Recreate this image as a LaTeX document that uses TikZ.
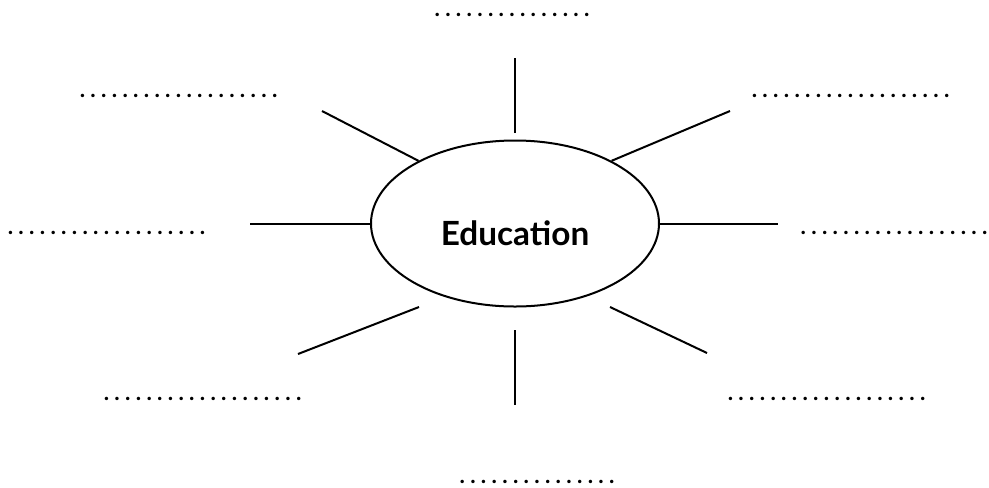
\documentclass[tikz,border=0pt]{standalone}
\usepackage{fontspec}
\setmainfont{Lato}
\usetikzlibrary{shapes.geometric}
% a row of n spaced dots to write on
\newcommand{\blankdots}[1]{\foreach \k in {1,...,#1}{\makebox[8pt]{.}}}

\begin{document}
\begin{tikzpicture}[x=0.75pt, y=-0.75pt,
   hub/.style={draw, ellipse, line width=1.5pt, minimum width=216pt, minimum height=124.5pt, inner sep=0pt},
   title/.style={font=\bfseries\fontsize{25}{30}\selectfont},
   blank/.style={anchor=base, inner sep=0pt, font=\bfseries\fontsize{17}{20}\selectfont},
   spoke/.style={line width=1.5pt}]
   \useasboundingbox (0,0) rectangle (989,487);
   \node[hub] (edu) at (515,223.5) {};
   \node[title] (edu-title) at (515,233) {Education};
   % blanks round the hub
   \node[blank] (b-top) at (512,16) {\blankdots{15}};
   \node[blank] (b-ul) at (178.5,97) {\blankdots{19}};
   \node[blank] (b-ur) at (850.5,97) {\blankdots{19}};
   \node[blank] (b-l) at (106.5,234) {\blankdots{19}};
   \node[blank] (b-r) at (894,234) {\blankdots{18}};
   \node[blank] (b-ll) at (202.5,400) {\blankdots{19}};
   \node[blank] (b-lr) at (826.5,400) {\blankdots{19}};
   \node[blank] (b-bot) at (537,483) {\blankdots{15}};
   % spokes
   \coordinate (s-top-in) at (515,133);
   \coordinate (s-top) at (515,58);
   \coordinate (s-bot-in) at (515,330);
   \coordinate (s-bot) at (515,405);
   \coordinate (s-l) at (250,223.5);
   \coordinate (s-r) at (778,223.5);
   \coordinate (s-ul) at (322,111);
   \coordinate (s-ur) at (730,111);
   \coordinate (s-ll-in) at (419,307);
   \coordinate (s-ll) at (298,354);
   \coordinate (s-lr-in) at (610,307);
   \coordinate (s-lr) at (707,353);
   \draw[spoke] (s-top-in) -- (s-top);
   \draw[spoke] (s-bot-in) -- (s-bot);
   \draw[spoke] (edu.west) -- (s-l);
   \draw[spoke] (edu.east) -- (s-r);
   \draw[spoke] (edu.147) -- (s-ul);
   \draw[spoke] (edu.33) -- (s-ur);
   \draw[spoke] (s-ll-in) -- (s-ll);
   \draw[spoke] (s-lr-in) -- (s-lr);
\end{tikzpicture}
\end{document}
